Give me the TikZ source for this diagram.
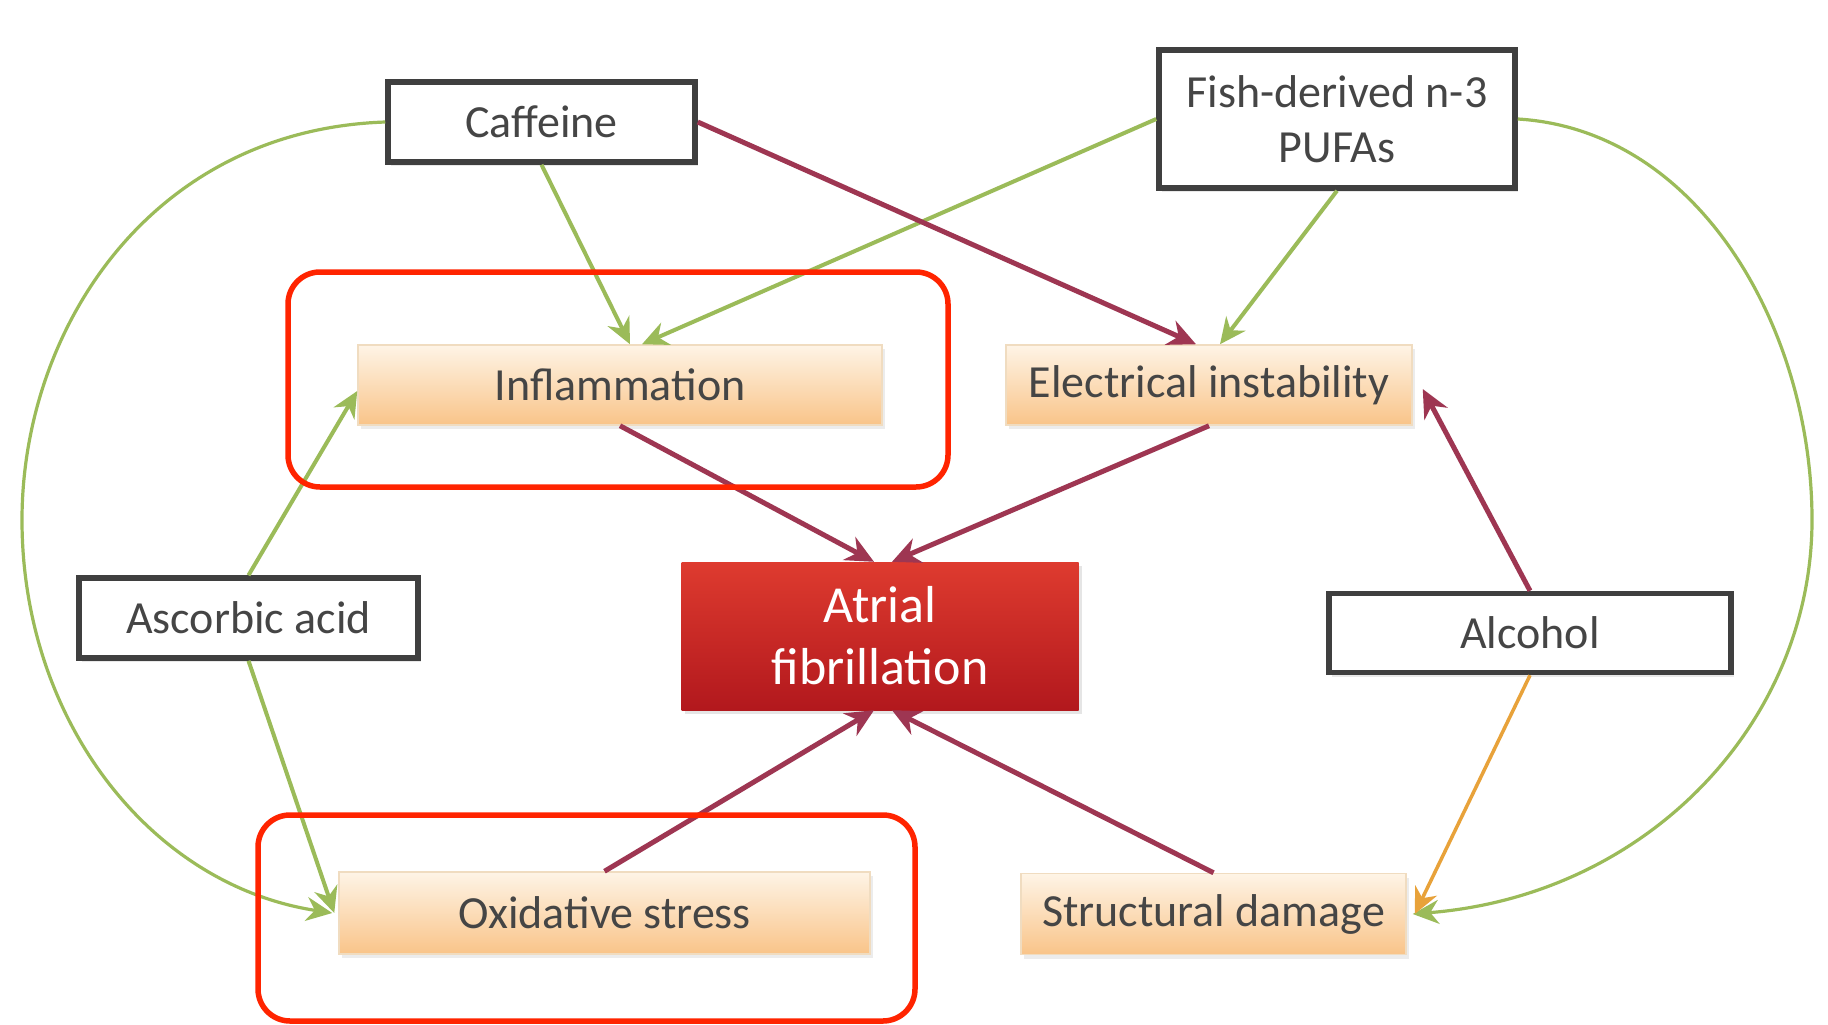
\documentclass[tikz,border=0pt]{standalone}
\usepackage{fontspec}
\setmainfont{Carlito}
\usetikzlibrary{arrows.meta,shadows}
\definecolor{boxline}{HTML}{3F3F3F}
\definecolor{txt}{HTML}{454545}
\definecolor{ogtop}{HTML}{FEF4E6}
\definecolor{ogbot}{HTML}{F9C489}
\definecolor{ogline}{HTML}{F0DCC0}
\definecolor{afTop}{HTML}{DE3B2F}
\definecolor{afBot}{HTML}{B2181D}
\definecolor{grn}{HTML}{9BBB59}
\definecolor{bur}{HTML}{9E3652}
\definecolor{org}{HTML}{E8A23A}
\definecolor{frm}{HTML}{FF2400}
\tikzset{
  wbox/.style={draw=boxline, line width=5.5pt, fill=white, inner sep=0pt,
    text=txt, font=\fontsize{46}{55}\selectfont, align=center,
    drop shadow={shadow xshift=3pt, shadow yshift=-4pt, opacity=0.18, fill=gray}},
  obox/.style={draw=ogline, line width=1.5pt, top color=ogtop, bottom color=ogbot,
    inner sep=0pt, text=txt, font=\fontsize{46}{55}\selectfont,
    drop shadow={shadow xshift=3pt, shadow yshift=-4pt, opacity=0.15, fill=gray}},
  afbox/.style={top color=afTop, bottom color=afBot, inner sep=0pt, text=white,
    font=\fontsize{52}{62}\selectfont, align=center,
    drop shadow={shadow xshift=3pt, shadow yshift=-4pt, opacity=0.2, fill=gray}},
  gline/.style={draw=grn, line width=4pt, -{Stealth[length=26pt,width=24pt]}},
  gcurve/.style={draw=grn, line width=3.2pt, -{Stealth[length=26pt,width=24pt]}},
  rline/.style={draw=bur, line width=5pt, -{Stealth[length=28pt,width=26pt]}},
  oline/.style={draw=org, line width=3.5pt, -{Stealth[length=26pt,width=24pt]}},
  frame/.style={draw=frm, line width=5.5pt, rounded corners=32pt}
}
\begin{document}
\begin{tikzpicture}[x=1pt,y=-1pt]
\fill[white] (0,0) rectangle (1828,1025);
\useasboundingbox (0,0) rectangle (1828,1025);

% nodes
\node[wbox, minimum width=307pt, minimum height=80pt] (caf) at (541.5,122) {Caffeine};
\node[wbox, minimum width=356pt, minimum height=138pt] (fish) at (1337,119) {Fish-derived n-3\\PUFAs};
\node[obox, minimum width=524pt, minimum height=80pt] (infl) at (620,385) {Inflammation};
\node[obox, minimum width=406pt, minimum height=80pt] (elec) at (1209,385) {Electrical instability};
\node[afbox, minimum width=397pt, minimum height=148pt] (af) at (880,636) {Atrial\\fibrillation};
\node[wbox, minimum width=339pt, minimum height=80pt] (asc) at (248.5,618) {Ascorbic acid};
\node[wbox, minimum width=402pt, minimum height=79pt] (alc) at (1530,633) {Alcohol};
\node[obox, minimum width=531pt, minimum height=82pt] (ox) at (604.5,913) {Oxidative stress};
\node[obox, minimum width=385pt, minimum height=81pt] (str) at (1213.5,914) {Structural damage};

% green connectors
\draw[gline] (caf.south) -- ([xshift=10pt]infl.north);
\draw[gline] (fish.west) -- ([xshift=22pt]infl.north);
\draw[gline] (fish.south) -- ([xshift=11pt]elec.north);
\draw[gline] (asc.north) -- ([yshift=-6pt]infl.west);
\draw[gline] (asc.south) -- ([xshift=-4pt]ox.west);
\draw[gcurve] (caf.west) .. controls (150,130) and (22,330) .. (22,520)
  .. controls (22,720) and (150,885) .. ([xshift=-6pt]ox.west);
\draw[gcurve] (fish.east) .. controls (1700,130) and (1812,330) .. (1812,520)
  .. controls (1812,720) and (1650,895) .. ([xshift=6pt]str.east);

% burgundy connectors
\draw[rline] (caf.east) -- ([xshift=-13pt]elec.north);
\draw[rline] (infl.south) -- ([xshift=-6pt]af.north);
\draw[rline] (elec.south) -- ([xshift=12pt]af.north);
\draw[rline] (ox.north) -- ([xshift=-6pt]af.south);
\draw[rline] (str.north) -- ([xshift=12pt]af.south);
\draw[rline] (alc.north) -- ([xshift=10pt,yshift=-4pt]elec.east);

% orange connector
\draw[oline] (alc.south) -- ([xshift=8pt]str.east);

% highlight frames
\draw[frame] (288,272) rectangle (948,487);
\draw[frame] (258,815) rectangle (915,1021);
\end{tikzpicture}
\end{document}
